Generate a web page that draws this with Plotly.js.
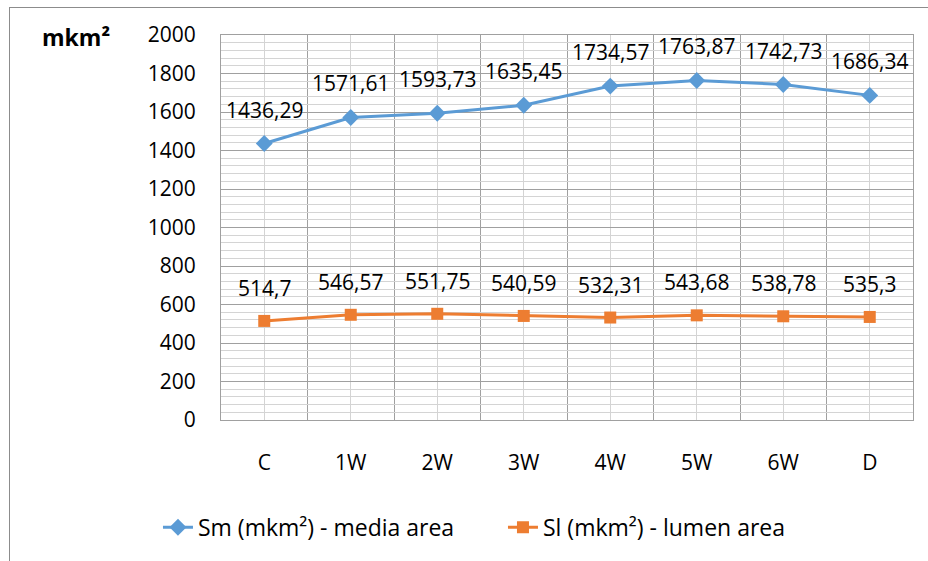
<!DOCTYPE html>
<html><head><meta charset="utf-8">
<script src="https://cdn.plot.ly/plotly-3.0.1.min.js"></script>
<style>
html,body{margin:0;padding:0;background:#fff;}
#wrap{position:relative;width:928px;height:561px;}
#chart{width:928px;height:561px;}
#frame{position:absolute;left:9px;top:7px;width:930px;height:560px;border-left:1px solid #8c8c8c;border-top:1px solid #8c8c8c;pointer-events:none;}
</style></head>
<body><div id="wrap"><div id="chart"></div><div id="frame"></div></div>
<script>
const categories = ["C","1W","2W","3W","4W","5W","6W","D"];
const smValues = [1436.29,1571.61,1593.73,1635.45,1734.57,1763.87,1742.73,1686.34];
const slValues = [514.7,546.57,551.75,540.59,532.31,543.68,538.78,535.3];
const smName = "Sm (mkm²) - media area";
const slName = "Sl (mkm²) - lumen area";
const yTitle = "mkm²";

const idx = categories.map((c,i)=>i);
const fmt = v => String(v).replace('.', ',');
const FONT = "Open Sans, Noto Sans, sans-serif";

const traces = [
  {x: idx, y: smValues, name: smName, type: 'scatter', mode: 'lines+markers',
   line: {color: '#5B9BD5', width: 3}, marker: {symbol: 'diamond', size: 13, color: '#5B9BD5'}},
  {x: idx, y: slValues, name: slName, type: 'scatter', mode: 'lines+markers',
   line: {color: '#ED7D31', width: 3}, marker: {symbol: 'square', size: 12, color: '#ED7D31'}}
];

const annotations = [];
idx.forEach(i => {
  annotations.push({x: i, y: smValues[i], xref: 'x', yref: 'y', text: fmt(smValues[i]), showarrow: false,
    yshift: 34, font: {family: FONT, size: 21, color: '#000'}});
  annotations.push({x: i, y: slValues[i], xref: 'x', yref: 'y', text: fmt(slValues[i]), showarrow: false,
    yshift: 33, font: {family: FONT, size: 21, color: '#000'}});
});
annotations.push({xref: 'paper', yref: 'paper', x: -0.262, y: 0.995, xanchor: 'left', yanchor: 'middle',
  text: '<b>' + yTitle + '</b>', showarrow: false, font: {family: FONT, size: 23, color: '#000'}});

const layout = {
  width: 928, height: 561,
  margin: {l: 221, r: 15, t: 35, b: 141},
  paper_bgcolor: '#fff', plot_bgcolor: '#fff',
  font: {family: FONT, size: 21, color: '#000'},
  showlegend: true,
  legend: {orientation: 'h', xref: 'container', x: 0.542, xanchor: 'center', yref: 'container', y: 0.06, yanchor: 'middle',
    entrywidth: 300, entrywidthmode: 'pixels',
    font: {family: FONT, size: 23, color: '#000'}},
  xaxis: {
    range: [-0.5, 7.5], tickmode: 'array', tickvals: idx, ticktext: categories,
    showgrid: true, gridcolor: '#d4d4d4', gridwidth: 1,
    minor: {tickmode: 'array', tickvals: [-0.5,0.5,1.5,2.5,3.5,4.5,5.5,6.5,7.5], showgrid: true, gridcolor: '#a0a0a0', gridwidth: 1, ticks: ''},
    showline: true, mirror: true, linecolor: '#a0a0a0', linewidth: 1,
    zeroline: false, ticks: 'outside', ticklen: 24, tickcolor: 'rgba(0,0,0,0)',
    tickfont: {family: FONT, size: 21, color: '#000'}, fixedrange: true
  },
  yaxis: {
    range: [0, 2000], dtick: 200, tick0: 0,
    showgrid: true, gridcolor: '#a0a0a0', gridwidth: 1,
    minor: {dtick: 40, tick0: 0, showgrid: true, gridcolor: '#d4d4d4', gridwidth: 1, ticks: ''},
    showline: true, mirror: true, linecolor: '#a0a0a0', linewidth: 1,
    zeroline: false, ticks: 'outside', ticklen: 20, tickcolor: 'rgba(0,0,0,0)',
    tickfont: {family: FONT, size: 21, color: '#000'}, fixedrange: true
  },
  annotations: annotations
};

Plotly.newPlot('chart', traces, layout, {displayModeBar: false, staticPlot: true});
</script></body></html>
